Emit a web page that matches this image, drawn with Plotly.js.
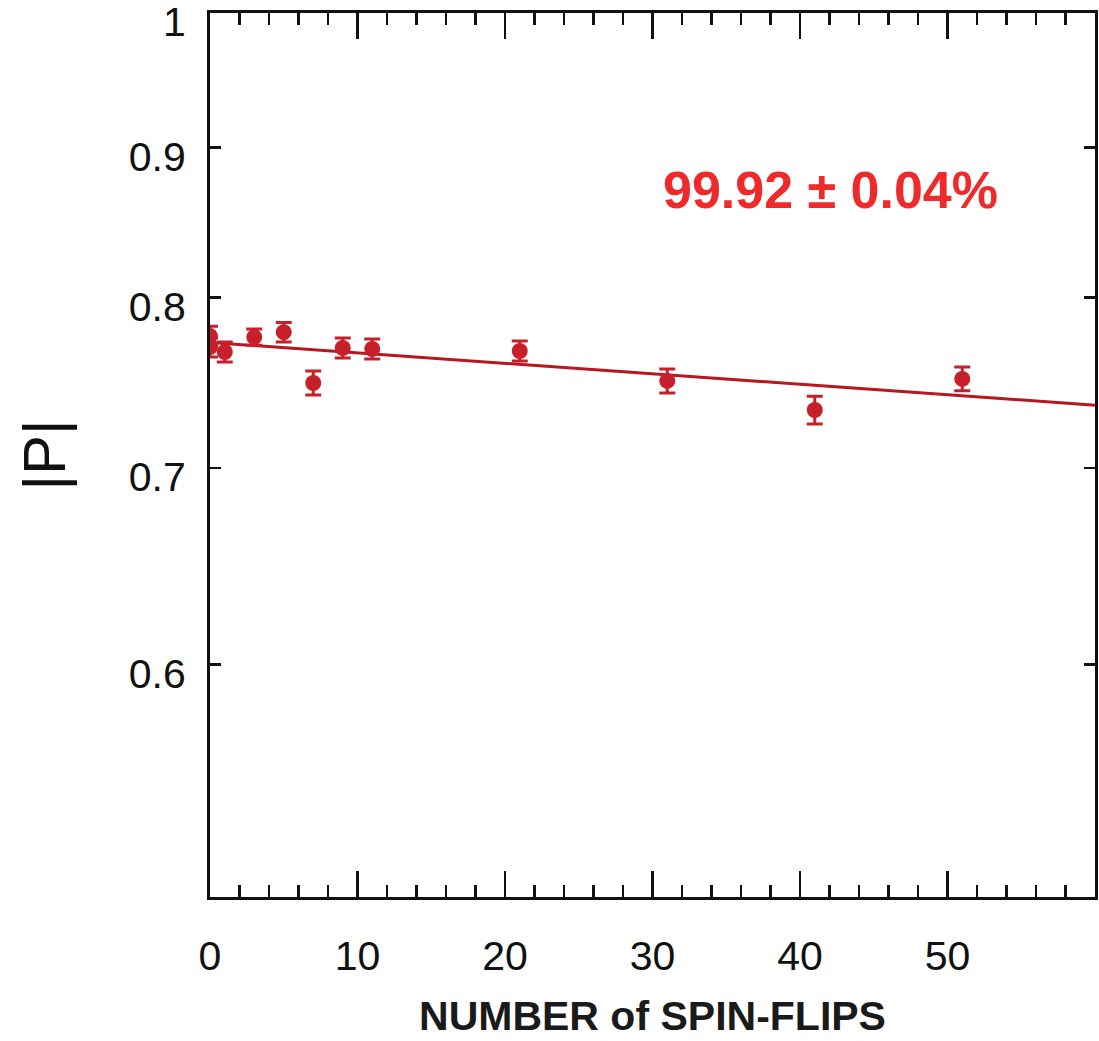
<!DOCTYPE html>
<html>
<head>
<meta charset="utf-8">
<script src="https://cdn.plot.ly/plotly-3.0.1.min.js"></script>
<style>
  html, body { margin: 0; padding: 0; background: #ffffff; }
  #chart { width: 1099px; height: 1041px; }
</style>
</head>
<body>
<div id="chart"></div>
<script>
// Data
const flips      = [0, 0, 1, 3, 5, 7, 9, 11, 21, 31, 41, 51];
const polarization = [0.7762, 0.7696, 0.7666, 0.7756, 0.7786, 0.7482, 0.7690, 0.7684, 0.7672, 0.7494, 0.7325, 0.7506];
const polErr     = [0.006, 0.006, 0.006, 0.005, 0.006, 0.007, 0.006, 0.006, 0.006, 0.007, 0.008, 0.007];
const fitX       = [0, 60];
const fitY       = [0.7724, 0.7353];
const yTickVals  = [0.6, 0.7, 0.8, 0.9, 1];
const yTickText  = ["0.6", "0.7", "0.8", "0.9", "1"];
const xTickVals  = [0, 10, 20, 30, 40, 50];
const annotationText = "99.92 ± 0.04%";

const markColor = "#c8202a";

const traces = [
  {
    x: fitX, y: fitY, type: "scatter", mode: "lines",
    line: { color: "#b81620", width: 3 },
    hoverinfo: "skip", showlegend: false
  },
  {
    x: flips, y: polarization, type: "scatter", mode: "markers",
    marker: { color: markColor, size: 16, line: { width: 0 } },
    error_y: { type: "data", array: polErr, visible: true, color: markColor, thickness: 3, width: 8 },
    showlegend: false
  }
];

const axisFont = { family: "Liberation Sans, Arial, sans-serif", size: 41, color: "#111111" };

const layout = {
  width: 1099, height: 1041,
  paper_bgcolor: "#ffffff", plot_bgcolor: "#ffffff",
  margin: { l: 210, r: 4, t: 13, b: 144 },
  showlegend: false,
  xaxis: {
    range: [0, 60], showgrid: false, zeroline: false,
    showline: true, linecolor: "#111111", linewidth: 3, mirror: "ticks",
    ticks: "inside", ticklen: 26, tickwidth: 2.5, tickcolor: "#111111",
    tickvals: xTickVals,
    minor: { dtick: 2, ticks: "inside", ticklen: 12, tickwidth: 2.5, tickcolor: "#111111", showgrid: false },
    tickfont: axisFont, ticklabelstandoff: 21,
    title: { text: "NUMBER of SPIN-FLIPS", standoff: 24,
             font: { family: "Liberation Sans, Arial, sans-serif", size: 41, color: "#1a1a1a", weight: "bold" } }
  },
  yaxis: {
    type: "log", range: [Math.log10(0.5), 0.00001], showgrid: false, zeroline: false,
    showline: true, linecolor: "#111111", linewidth: 3, mirror: "ticks",
    ticks: "inside", ticklen: 11, tickwidth: 2.5, tickcolor: "#111111",
    tickvals: yTickVals, ticktext: yTickText,
    tickfont: axisFont, ticklabelstandoff: 13, ticklabelshift: 9, ticklabeloverflow: "allow",
    title: { text: "|P|", standoff: 44,
             font: { family: "Liberation Sans, Arial, sans-serif", size: 60, color: "#111111" } }
  },
  annotations: [
    {
      text: annotationText, xref: "paper", yref: "paper",
      x: 0.7006, y: 0.80, xanchor: "center", yanchor: "middle", showarrow: false,
      font: { family: "Liberation Sans, Arial, sans-serif", size: 52, color: "#ee2a2a", weight: "bold" }
    }
  ]
};

Plotly.newPlot("chart", traces, layout, { displayModeBar: false, staticPlot: true });
</script>
</body>
</html>
